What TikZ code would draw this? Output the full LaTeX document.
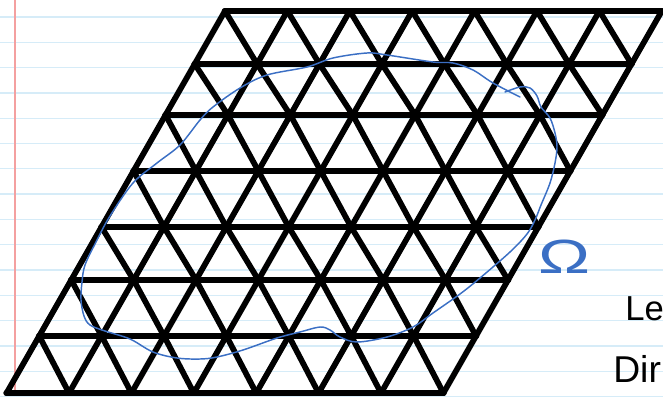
\documentclass[tikz,border=0pt]{standalone}
\usepackage{fontspec}
\usepackage{tikz}
\usetikzlibrary{positioning}
\newfontfamily\handfont{Liberation Sans}
\definecolor{ink}{HTML}{3B6FC4}
\definecolor{ruled}{HTML}{D6ECF8}
\definecolor{margin}{HTML}{F4A0A0}

\begin{document}
\begin{tikzpicture}[x=0.75pt, y=-0.75pt,
    bar/.style={line width=5pt, line cap=round},
    slant/.style={line width=4.3pt, line cap=round},
    pen/.style={ink, line width=1.1pt, line cap=round, line join=round},
    every node/.style={inner sep=0pt}]
  \useasboundingbox (0,0) rectangle (663,396);
  \clip (0,0) rectangle (663,396);
  % paper
  \foreach \k in {0,...,15} {
    \draw[ruled, line width=1pt] (0,17+25.3*\k) -- (663,17+25.3*\k);
  }
  \draw[margin, line width=1.3pt] (15,0) -- (15,396);
  % lattice vertices
  \foreach \k/\y in {0/11,1/64,2/115,3/171,4/227,5/280,6/336,7/393} \foreach \j in {0,...,7} {
    \coordinate (v\k\j) at ({225-0.5717*(\y-11)+62.4*\j},\y);
  }
  % edges (horizontal)
  \foreach \k in {0,...,7} \foreach \j/\jn in {0/1,1/2,2/3,3/4,4/5,5/6,6/7} {
    \draw[bar] (v\k\j) -- (v\k\jn);
  }
  % edges (slanted)
  \foreach \k/\kn in {0/1,1/2,2/3,3/4,4/5,5/6,6/7} \foreach \j in {0,...,7} {
    \draw[slant] (v\k\j) -- (v\kn\j);
  }
  \foreach \k/\kn in {0/1,1/2,2/3,3/4,4/5,5/6,6/7} \foreach \j/\jn in {0/1,1/2,2/3,3/4,4/5,5/6,6/7} {
    \draw[slant] (v\k\j) -- (v\kn\jn);
  }
  % the region
  \draw[pen] plot[smooth, tension=0.55] coordinates {
    (505,92) (520,87) (530,88) (537,96) (541,107) (550,118) (555,133)
    (557,147) (555,163) (550,183) (541,205) (535,220) (527,234) (510,252)
    (480,278) (460,294) (433,313) (413,327) (387,337) (357,342) (340,337)
    (330,330) (320,327) (300,332) (277,338) (243,350) (217,357) (200,359)
    (177,358) (153,352) (130,339) (105,331) (90,325) (84,316) (81,300)
    (82,282) (85,265) (96,242) (110,216) (133,183) (157,163) (180,145)
    (200,120) (213,107) (240,88) (267,75) (307,67) (333,58) (367,53)
    (387,55) (433,62) (453,63) (473,70) (493,83) (520,97)};
  \node[ink, font=\handfont\fontsize{36}{36}\selectfont, xscale=1.45, anchor=base] (omega) at (565,273) {Ω};
  \node[font=\handfont\fontsize{26}{26}\selectfont, anchor=base west] (lbLe) at (625,320) {Le};
  \node[font=\handfont\fontsize{28}{28}\selectfont, anchor=base west] (lbDir) at (613,382) {Dir};
\end{tikzpicture}
\end{document}
